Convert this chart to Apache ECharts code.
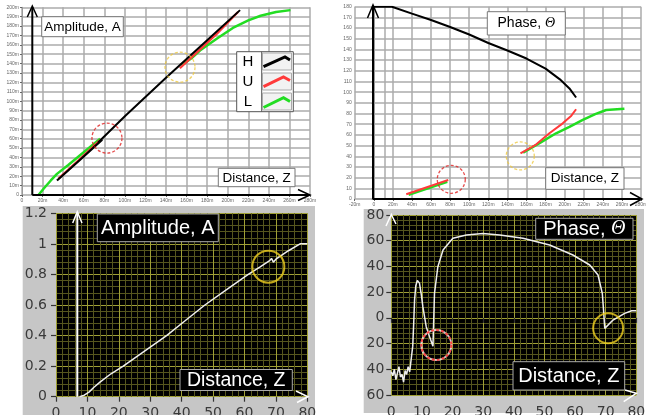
<!DOCTYPE html>
<html><head><meta charset="utf-8">
<script src="https://cdn.jsdelivr.net/npm/echarts@6/dist/echarts.min.js"></script>
<style>html,body{margin:0;padding:0;background:#fff}#c{width:646px;height:415px}</style>
</head><body><div id="c"></div>
<script>
// ---------- Panel 1 (top-left): Amplitude vs Distance, metres ----------
const ampTopGreenLow  = [[16,0],[22,8],[28,15.5],[34,22.5],[45,32],[55,41],[65,50],[76,60]];
const ampTopGreenHigh = [[155,138],[165,146],[173,154],[190,167],[205,178],[220,186],[232,191],[247,195],[261,197]];
const ampTopRedLow    = [[35.5,17.5],[56,38],[76,58.5]];
const ampTopRedHigh   = [[153.5,135],[170,152],[190,172.5],[210,195]];
const ampTopBlackLow  = [[34,15.5],[56,37],[78,59]];
const ampTopBlackMain = [[74,56],[100,84],[140,125],[180,165],[212,197]];
const ampTopCircles   = { red: [[82.6,60.6]], yellow: [[153.6,136.2]] };

// ---------- Panel 2 (top-right): Phase vs Distance ----------
const phaseTopBlack     = [[0,180],[19,180],[20,179.5],[40,173.5],[60,167.5],[80,161],[100,154],[120,146],[140,139],[160,131.5],[180,122],[195,112],[205,103.5],[212,95]];
const phaseTopRedHigh   = [[153.7,42.7],[170,51],[184,61.5],[198,70.8],[207,78],[212,84]];
const phaseTopGreenHigh = [[156.5,43.4],[175,53],[191,61.5],[205,67.5],[219,74],[232,79.5],[243.5,83.3],[262.6,84.5]];
const phaseTopRedLow    = [[34,4.4],[78,17.8]];
const phaseTopGreenLow  = [[36.5,4],[77,16.2]];
const phaseTopExtraGrid = [11];
const phaseTopCircles   = { red: [[81.2,18.4]], yellow: [[153.5,40.3]] };

// ---------- Panel 3 (bottom-left): measured amplitude ----------
const ampBottom = [[7.5,0],[9,0.01],[10.5,0.03],[12,0.06],[14,0.095],[17.5,0.15],[21.4,0.2],[28.3,0.3],[35.2,0.4],[41.3,0.5],[47.4,0.6],[54.3,0.7],[61.2,0.8],[65,0.85],[68,0.89],[68.6,0.905],[69.2,0.88],[70,0.9],[74,0.955],[77.7,1.0],[80,1.0]];
const ampBottomCircles = { yellow: [[67.6,0.851]] };

// ---------- Panel 4 (bottom-right): measured phase ----------
const phaseBottom = [[0,-42],[0.5,-45],[1,-40],[1.5,-48],[2,-43],[2.5,-38],[3,-46],[3.5,-44],[4,-50],[4.5,-41],[5,-44],[5.5,-38],[6,-42],[6.3,-36],[6.6,-35],[7,-22],[7.3,-5],[7.6,14],[8,25],[8.5,29],[9.2,27],[9.8,18],[10.3,8.7],[11.4,-6.9],[12.5,-14.6],[13.6,-22],[14.1,19],[15.2,39.8],[16.9,52.8],[20.1,61.9],[24.5,64.4],[29.9,65.7],[35.4,64.4],[43,61.9],[51.7,56.7],[59.3,48.9],[64.8,41.1],[67.5,33.3],[68.9,19.1],[69.3,6.1],[69.7,-8.2],[72.4,-1.7],[76.2,3.5],[78.5,5.5],[80,5.6]];
const phaseBottomCircles = { red: [[14.7,-21.1]], yellow: [[70.8,-8.1]] };

// ---------- Axis ranges / ticks ----------
const ampTopX = {min:0,max:280,step:20}, ampTopY = {min:0,max:200,step:10};
const phaseTopX = {min:-20,max:280,step:20}, phaseTopY = {min:0,max:180,step:10};
const ampBotX = {min:0,max:80,step:10}, ampBotY = {min:0,max:1.2,step:0.2};
const phaseBotX = {min:0,max:80,step:10}, phaseBotY = {min:-60,max:80,step:20};

const mFmt = v => v === 0 ? '0' : v + 'm';
const SANS = 'Liberation Sans, Arial, sans-serif';

function topX(g, r, fmt){ return {gridIndex:g,type:'value',min:r.min,max:r.max,interval:r.step,
  axisLine:{show:false},axisTick:{show:true,length:2,lineStyle:{color:'#666'}},
  axisLabel:{fontSize:5,color:'#666',margin:3,formatter:fmt,fontFamily:SANS},
  splitLine:{show:true,lineStyle:{color:'#ababab',width:1.5}}}; }
function topY(g, r, fmt){ return {gridIndex:g,type:'value',min:r.min,max:r.max,interval:r.step,
  axisLine:{show:true,lineStyle:{color:'#999',width:1}},axisTick:{show:true,length:2,lineStyle:{color:'#666'}},
  axisLabel:{fontSize:5,color:'#666',margin:3,formatter:fmt,fontFamily:SANS},
  splitLine:{show:true,lineStyle:{color:'#ababab',width:1.5}}}; }
function botAxis(g, r, isY, margin, fmt){ return {gridIndex:g,type:'value',min:r.min,max:r.max,interval:r.step,
  axisLine:{show:false},axisTick:{show:true,length:5,lineStyle:{color:'#333',width:1.2}},
  axisLabel:{fontSize:14,color:'#3a3a3a',margin:margin,fontFamily:'DejaVu Sans, Verdana, sans-serif',formatter:fmt},
  splitLine:{show:true,lineStyle:{color:'#a0a036',width:1}},
  minorTick:{show:false,splitNumber:5},
  minorSplitLine:{show:true,lineStyle:{color:'#56561e',width:1}}}; }

function line(name,data,xi,color,w,extra){ return Object.assign({type:'line',name,data,xAxisIndex:xi,yAxisIndex:xi,
  showSymbol:false,symbol:'none',smooth:false,lineStyle:{color,width:w},z:3,animation:false},extra||{}); }
function circ(data,xi,color,size,dashed,w){ return {type:'scatter',data,xAxisIndex:xi,yAxisIndex:xi,symbol:'circle',symbolSize:size,
  itemStyle:{color:'rgba(0,0,0,0)',borderColor:color,borderWidth:w||1.5,borderType:dashed?[3,2]:'solid'},z:6,silent:true,animation:false}; }

const series = [
  line('L',ampTopGreenLow,0,'#22dd22',2.5), line('L',ampTopGreenHigh,0,'#22dd22',2.5),
  line('U',ampTopRedLow,0,'#ff3a3a',2.2), line('U',ampTopRedHigh,0,'#ff3a3a',2.2),
  line('H',ampTopBlackLow,0,'#000',2.2), line('H',ampTopBlackMain,0,'#000',2),
  circ(ampTopCircles.red,0,'#e02020',30,true,1.3), circ(ampTopCircles.yellow,0,'#eec840',30,true,1.3),

  line('H',phaseTopBlack,1,'#000',2,{markLine:{silent:true,symbol:'none',label:{show:false},animation:false,
      lineStyle:{color:'#ababab',width:1.5,type:'solid'},data:phaseTopExtraGrid.map(v=>({xAxis:v})),z:1}}),
  line('L',phaseTopGreenLow,1,'#22dd22',2.5), line('U',phaseTopRedLow,1,'#ff3a3a',2),
  line('L',phaseTopGreenHigh,1,'#22dd22',2.5), line('U',phaseTopRedHigh,1,'#ff3a3a',2),
  circ(phaseTopCircles.red,1,'#e02020',28,true,1.3), circ(phaseTopCircles.yellow,1,'#eec840',28,true,1.3),

  line('A',ampBottom,2,'#eeeeee',1.5),
  circ(ampBottomCircles.yellow,2,'#f0d020',32,false,2),

  line('P',phaseBottom,3,'#eeeeee',1.5),
  circ(phaseBottomCircles.red,3,'#ffffff',30,false,2),
  circ(phaseBottomCircles.red,3,'#ff2020',30,true,2),
  circ(phaseBottomCircles.yellow,3,'#f0d020',30,false,2)
];

function pl(points,color,w,z){ return {type:'polyline',shape:{points},style:{stroke:color,lineWidth:w,fill:null},z:z||50,silent:true}; }
function box(x,y,w,h,fill,stroke){ return {type:'rect',shape:{x,y,width:w,height:h},style:{fill,stroke,lineWidth:1},z:60,silent:true}; }
function txt(x,y,text,size,color,rich){ const s={text,x,y,fill:color,font:size+'px '+SANS,align:'center',verticalAlign:'middle'};
  if(rich) s.rich=rich; return {type:'text',style:s,z:61,silent:true}; }

const thetaRich = (size,color) => ({a:{fontSize:size,fontFamily:SANS,fill:color},b:{fontSize:size,fontFamily:'Liberation Serif, serif',fontStyle:'italic',fill:color}});

const graphic = [
  // gray backgrounds of lower screenshots
  {type:'rect',shape:{x:22.7,y:206,width:292.3,height:209},style:{fill:'#c6c6c6'},z:-10,silent:true},
  {type:'rect',shape:{x:363.7,y:209,width:280.3,height:204},style:{fill:'#c6c6c6'},z:-10,silent:true},
  // panel 1 arrows
  pl([[32.3,195],[32.3,7]],'#000',2), pl([[27.3,17],[32.3,6],[37.3,17]],'#000',1.5),
  pl([[32.3,195],[309,195]],'#000',2), pl([[298,189.5],[310,195],[298,200.5]],'#000',1.5),
  // panel 2 arrows
  pl([[373,199],[373,6]],'#000',2), pl([[367.5,18],[373,5],[378.5,18]],'#000',1.5),
  pl([[373,199],[640,199]],'#000',2), pl([[630,192.5],[642,199],[630,205.5]],'#000',1.5),
  // panel 3 arrows
  pl([[77.3,396.7],[77.3,212.5]],'#fff',2), pl([[72.7,223],[77.3,211.7],[82,223]],'#fff',1.5),
  pl([[296,391],[308,396.7],[297,402.5]],'#fff',1.5),
  // panel 4 arrows
  pl([[386,226],[391.3,214.5],[396,224]],'#fff',1.5),
  pl([[623.7,401.7],[636.3,393.3],[625,390]],'#fff',1.5),
  // panel 1 text boxes
  box(41.7,16.7,81.6,20,'#fff','#777'), txt(82.5,27,'Amplitude, A',13.5,'#000'),
  box(218.3,168.3,76.7,18.4,'#fff','#777'), txt(256.6,177.8,'Distance, Z',13.5,'#000'),
  // panel 1 legend
  box(236.7,51.7,56.6,60,'#fff','#555'),
  pl([[261.7,51.7],[261.7,111.7]],'#555',1,60),
  txt(248,62,'H',15,'#000'), txt(248,82,'U',15,'#000'), txt(248,102,'L',15,'#000'),
  box(262.5,53,29,17,'#f2f2f2','#aaa'), box(262.5,73,29,17,'#f2f2f2','#aaa'), box(262.5,93,29,17,'#f2f2f2','#aaa'),
  pl([[263.5,66.7],[285,57],[290,60]],'#000',3,62),
  pl([[263.5,86.7],[283.5,77],[290,80.5]],'#ff3a3a',3,62),
  pl([[263.5,107.5],[283.5,97.7],[290,101.5]],'#22dd22',3,62),
  // panel 2 text boxes
  box(487.3,11.7,78,23.3,'#fff','#777'), txt(526.3,23.5,'{a|Phase, }{b|Θ}',14,'#000',thetaRich(14,'#000')),
  box(545.7,167.7,78.3,21.6,'#fff','#777'), txt(584.8,178.6,'Distance, Z',13.5,'#000'),
  // panel 3 text boxes
  box(97.3,214,121,27.7,'#000','#aaa'), txt(157.8,228,'Amplitude, A',20,'#fff'),
  box(180,369.5,112.3,21,'#000','#aaa'), txt(236.2,380.2,'Distance, Z',19.5,'#fff'),
  // panel 4 text boxes
  box(535.7,218.3,97.3,21,'#000','#aaa'), txt(584.3,229,'{a|Phase, }{b|Θ}',20,'#fff',thetaRich(20,'#fff')),
  box(513,361.7,111.7,28.3,'#000','#aaa'), txt(568.8,376,'Distance, Z',20,'#fff')
];

const chart = echarts.init(document.getElementById('c'), null, {renderer:'canvas'});
chart.setOption({
  animation:false,
  backgroundColor:'#fff',
  grid:[
    {left:22,top:7.3,width:288,height:187.7,outerBoundsMode:'none',containLabel:false},
    {left:354.7,top:6.7,width:286.3,height:192.3,outerBoundsMode:'none',containLabel:false},
    {left:56,top:213.3,width:251.3,height:183.4,show:true,backgroundColor:'#000',borderWidth:0,outerBoundsMode:'none',containLabel:false},
    {left:391.3,top:215,width:245,height:180,show:true,backgroundColor:'#000',borderWidth:0,outerBoundsMode:'none',containLabel:false}
  ],
  xAxis:[ topX(0,ampTopX,mFmt), topX(1,phaseTopX,mFmt), botAxis(2,ampBotX,false,10), botAxis(3,phaseBotX,false,10) ],
  yAxis:[ topY(0,ampTopY,mFmt), topY(1,phaseTopY,v=>String(v)), botAxis(2,ampBotY,true,9), botAxis(3,phaseBotY,true,7,v=>String(Math.abs(v))) ],
  series,
  graphic
});
</script></body></html>
